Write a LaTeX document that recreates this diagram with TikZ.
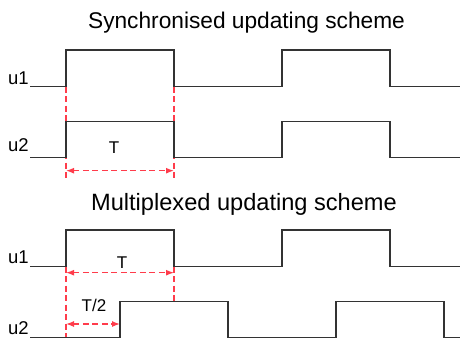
\documentclass[tikz,border=0pt]{standalone}
\usepackage{fontspec}
\setmainfont{Liberation Sans}
\usetikzlibrary{arrows.meta}
\begin{document}
\begin{tikzpicture}[x=1pt,y=-1pt,
 wave/.style={draw=black!80, line width=1.1pt, line join=miter},
 guide/.style={draw={rgb,255:red,255;green,60;blue,75}, line width=1.3pt, dash pattern=on 6pt off 3.5pt},
 dim/.style={guide, {Latex[length=8pt,width=6pt]}-{Latex[length=8pt,width=6pt]}},
 title/.style={font=\fontsize{22.7}{24}\selectfont, anchor=base, inner sep=0},
 sig/.style={font=\fontsize{18.5}{20}\selectfont, anchor=base west, inner sep=0},
 lbl/.style={font=\fontsize{17}{19}\selectfont, anchor=base, inner sep=0}]
\useasboundingbox (0,0) rectangle (460,338);
% titles
\node[title] (t1) at (246.5,28) {Synchronised updating scheme};
\node[title, font=\fontsize{23.6}{25}\selectfont] (t2) at (244,210) {Multiplexed updating scheme};
% signal labels
\node[sig] (s1) at (8,84) {u1};
\node[sig] (s2) at (8,151) {u2};
\node[sig] (s3) at (8,263) {u1};
\node[sig] (s4) at (8,334) {u2};
% guide coordinates
\coordinate (a1) at (66,86.7);
\coordinate (a2) at (66,178);
\coordinate (b1) at (174,86.7);
\coordinate (b2) at (174,178);
\coordinate (c1) at (66,266.7);
\coordinate (c2) at (66,338);
\coordinate (d1) at (174,266.7);
\coordinate (d2) at (174,301.7);
\coordinate (p1) at (66,170.7);
\coordinate (p2) at (174,170.7);
\coordinate (q1) at (66,272.7);
\coordinate (q2) at (174,272.7);
\coordinate (r1) at (66,324);
\coordinate (r2) at (120,324);
% guides
\draw[guide] (a1) -- (a2);
\draw[guide] (b1) -- (b2);
\draw[guide] (c1) -- (c2);
\draw[guide] (d1) -- (d2);
\draw[dim] (p1) -- (p2);
\draw[dim] (q1) -- (q2);
\draw[dim] (r1) -- (r2);
% waveforms
\draw[wave] (30,86.7) -- (66,86.7) -- (66,50) -- (174,50) -- (174,86.7) -- (282,86.7) -- (282,50) -- (390,50) -- (390,86.7) -- (460,86.7);
\draw[wave] (30,157.3) -- (66,157.3) -- (66,121.7) -- (174,121.7) -- (174,157.3) -- (282,157.3) -- (282,121.7) -- (390,121.7) -- (390,157.3) -- (460,157.3);
\draw[wave] (30,266.7) -- (66,266.7) -- (66,230) -- (174,230) -- (174,266.7) -- (282,266.7) -- (282,230) -- (390,230) -- (390,266.7) -- (460,266.7);
\draw[wave] (30,337.3) -- (120,337.3) -- (120,301.7) -- (228,301.7) -- (228,337.3) -- (336,337.3) -- (336,301.7) -- (444,301.7) -- (444,337.3) -- (460,337.3);
% interval labels
\node[lbl] (T1) at (114,153) {T};
\node[lbl] (T2) at (122,268) {T};
\node[lbl] (T3) at (94,311.5) {T/2};
\end{tikzpicture}
\end{document}
